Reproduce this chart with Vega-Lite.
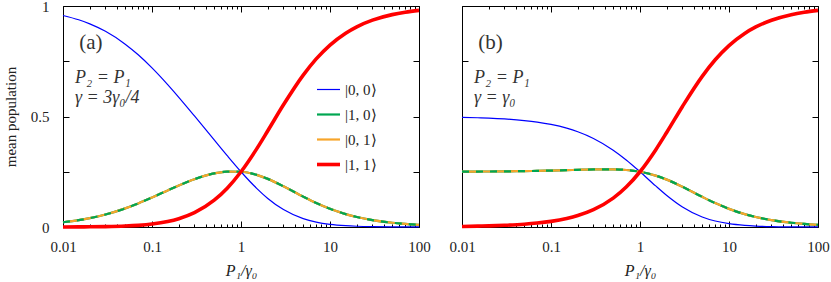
{
  "$schema": "https://vega.github.io/schema/vega-lite/v6.json",
  "autosize": {"type": "pad"},
  "padding": {"left": 2, "top": -2, "right": 0, "bottom": 0},
  "spacing": 43,
  "bounds": "flush",
  "data": {"values": [
    {"panel":"a","x":0.01,"s00":0.9571,"s10":0.0213,"s01":0.0213,"s11":0.0002},
    {"panel":"a","x":0.015,"s00":0.9376,"s10":0.0310,"s01":0.0310,"s11":0.0005},
    {"panel":"a","x":0.02,"s00":0.9192,"s10":0.0400,"s01":0.0400,"s11":0.0008},
    {"panel":"a","x":0.03,"s00":0.8853,"s10":0.0565,"s01":0.0565,"s11":0.0017},
    {"panel":"a","x":0.05,"s00":0.8273,"s10":0.0842,"s01":0.0842,"s11":0.0042},
    {"panel":"a","x":0.07,"s00":0.7791,"s10":0.1067,"s01":0.1067,"s11":0.0075},
    {"panel":"a","x":0.1,"s00":0.7199,"s10":0.1334,"s01":0.1334,"s11":0.0133},
    {"panel":"a","x":0.15,"s00":0.6443,"s10":0.1654,"s01":0.1654,"s11":0.0248},
    {"panel":"a","x":0.2,"s00":0.5869,"s10":0.1878,"s01":0.1878,"s11":0.0376},
    {"panel":"a","x":0.3,"s00":0.5026,"s10":0.2163,"s01":0.2163,"s11":0.0649},
    {"panel":"a","x":0.5,"s00":0.3939,"s10":0.2424,"s01":0.2424,"s11":0.1212},
    {"panel":"a","x":0.7,"s00":0.3228,"s10":0.2508,"s01":0.2508,"s11":0.1756},
    {"panel":"a","x":1,"s00":0.25,"s10":0.25,"s01":0.25,"s11":0.25},
    {"panel":"a","x":1.5,"s00":0.1749,"s10":0.2358,"s01":0.2358,"s11":0.3536},
    {"panel":"a","x":2,"s00":0.1293,"s10":0.2177,"s01":0.2177,"s11":0.4354},
    {"panel":"a","x":3,"s00":0.0787,"s10":0.1843,"s01":0.1843,"s11":0.5528},
    {"panel":"a","x":5,"s00":0.0378,"s10":0.1375,"s01":0.1375,"s11":0.6873},
    {"panel":"a","x":7,"s00":0.0221,"s10":0.1087,"s01":0.1087,"s11":0.7606},
    {"panel":"a","x":10,"s00":0.0120,"s10":0.0823,"s01":0.0823,"s11":0.8233},
    {"panel":"a","x":15,"s00":0.0058,"s10":0.0585,"s01":0.0585,"s11":0.8772},
    {"panel":"a","x":20,"s00":0.0034,"s10":0.0453,"s01":0.0453,"s11":0.9060},
    {"panel":"a","x":30,"s00":0.0016,"s10":0.0312,"s01":0.0312,"s11":0.9360},
    {"panel":"a","x":50,"s00":0.0006,"s10":0.0192,"s01":0.0192,"s11":0.9610},
    {"panel":"a","x":70,"s00":0.0003,"s10":0.0139,"s01":0.0139,"s11":0.9719},
    {"panel":"a","x":100,"s00":0.0002,"s10":0.0098,"s01":0.0098,"s11":0.9802},
    {"panel":"b","x":0.01,"s00":0.4963,"s10":0.2506,"s01":0.2506,"s11":0.0025},
    {"panel":"b","x":0.015,"s00":0.4944,"s10":0.2509,"s01":0.2509,"s11":0.0038},
    {"panel":"b","x":0.02,"s00":0.4926,"s10":0.2512,"s01":0.2512,"s11":0.0050},
    {"panel":"b","x":0.03,"s00":0.4889,"s10":0.2518,"s01":0.2518,"s11":0.0076},
    {"panel":"b","x":0.05,"s00":0.4816,"s10":0.2529,"s01":0.2529,"s11":0.0126},
    {"panel":"b","x":0.07,"s00":0.4745,"s10":0.2539,"s01":0.2539,"s11":0.0178},
    {"panel":"b","x":0.1,"s00":0.4640,"s10":0.2552,"s01":0.2552,"s11":0.0255},
    {"panel":"b","x":0.15,"s00":0.4472,"s10":0.2571,"s01":0.2571,"s11":0.0386},
    {"panel":"b","x":0.2,"s00":0.4310,"s10":0.2586,"s01":0.2586,"s11":0.0517},
    {"panel":"b","x":0.3,"s00":0.4008,"s10":0.2605,"s01":0.2605,"s11":0.0782},
    {"panel":"b","x":0.5,"s00":0.3478,"s10":0.2609,"s01":0.2609,"s11":0.1304},
    {"panel":"b","x":0.7,"s00":0.3035,"s10":0.2580,"s01":0.2580,"s11":0.1806},
    {"panel":"b","x":1,"s00":0.25,"s10":0.25,"s01":0.25,"s11":0.25},
    {"panel":"b","x":1.5,"s00":0.1860,"s10":0.2326,"s01":0.2326,"s11":0.3488},
    {"panel":"b","x":2,"s00":0.1429,"s10":0.2143,"s01":0.2143,"s11":0.4286},
    {"panel":"b","x":3,"s00":0.0909,"s10":0.1818,"s01":0.1818,"s11":0.5455},
    {"panel":"b","x":5,"s00":0.0455,"s10":0.1364,"s01":0.1364,"s11":0.6818},
    {"panel":"b","x":7,"s00":0.0270,"s10":0.1081,"s01":0.1081,"s11":0.7568},
    {"panel":"b","x":10,"s00":0.0149,"s10":0.0821,"s01":0.0821,"s11":0.8209},
    {"panel":"b","x":15,"s00":0.0073,"s10":0.0584,"s01":0.0584,"s11":0.8759},
    {"panel":"b","x":20,"s00":0.0043,"s10":0.0453,"s01":0.0453,"s11":0.9052},
    {"panel":"b","x":30,"s00":0.0020,"s10":0.0312,"s01":0.0312,"s11":0.9356},
    {"panel":"b","x":50,"s00":0.0008,"s10":0.0192,"s01":0.0192,"s11":0.9608},
    {"panel":"b","x":70,"s00":0.0004,"s10":0.0139,"s01":0.0139,"s11":0.9718},
    {"panel":"b","x":100,"s00":0.0002,"s10":0.0098,"s01":0.0098,"s11":0.9802}
  ]},
  "hconcat": [
    {
      "width": 356, "height": 221,
      "layer": [
        {
          "transform": [{"filter": "datum.panel == 'a'"}, {"fold": ["s00","s10","s01","s11"], "as": ["state","value"]}, {"filter": "datum.state == 's00'"}],
          "mark": {"type": "line", "interpolate": "monotone", "strokeWidth": 1.2},
          "encoding": {
            "x": {"field": "x", "type": "quantitative", "scale": {"type": "log", "domain": [0.01, 100], "nice": false},
                  "axis": {"orient": "bottom", "values": [0.01,0.1,1,10,100], "labelExpr": "datum.value < 0.05 ? '0.01' : datum.value < 0.5 ? '0.1' : datum.value < 5 ? '1' : datum.value < 50 ? '10' : '100'", "tickSize": -6, "labelPadding": 18, "labelFlush": false, "labelOverlap": false, "title": "P₁/γ₀", "titleFontStyle": "italic", "titlePadding": 8}},
            "y": {"field": "value", "type": "quantitative", "scale": {"domain": [0, 1], "nice": false, "zero": false},
                  "axis": {"orient": "left", "values": [0,0.25,0.5,0.75,1], "labelExpr": "datum.value == 0 ? '0' : datum.value == 0.5 ? '0.5' : datum.value == 1 ? '1' : ''", "tickSize": -6, "labelPadding": 20, "labelFlush": false, "labelOverlap": false, "title": "mean population", "titleFontSize": 15, "titlePadding": 12}},
            "color": {"field": "state", "type": "nominal", "scale": {"domain": ["s00","s10","s01","s11"], "range": ["#0000ff","#00a651","#f7a52b","#ff0000"]},
                      "legend": {"orient": "none", "legendX": 258, "legendY": 76, "title": null, "symbolType": "stroke", "symbolSize": 529, "labelFont": "Liberation Serif", "labelFontSize": 15, "labelColor": "#222", "labelOffset": 9, "rowPadding": 9, "padding": 0, "labelExpr": "datum.label == 's00' ? '|0, 0⟩' : datum.label == 's10' ? '|1, 0⟩' : datum.label == 's01' ? '|0, 1⟩' : '|1, 1⟩'",
                                 "encode": {"symbols": {"update": {"strokeWidth": {"signal": "datum.value == 's11' ? 3.6 : datum.value == 's00' ? 1.2 : 2.2"}}}}}}
          }
        },
        {
          "transform": [{"filter": "datum.panel == 'a'"}, {"fold": ["s00","s10","s01","s11"], "as": ["state","value"]}, {"filter": "datum.state == 's10' || datum.state == 's01'"}],
          "mark": {"type": "line", "interpolate": "monotone", "strokeWidth": 2.2},
          "encoding": {
            "x": {"field": "x", "type": "quantitative", "axis": {"orient": "top", "values": [0.01,0.1,1,10,100], "tickSize": -6, "labels": false, "title": null}},
            "y": {"field": "value", "type": "quantitative", "axis": {"orient": "right", "values": [0,0.25,0.5,0.75,1], "tickSize": -6, "labels": false, "title": null}},
            "color": {"field": "state", "type": "nominal"}
          }
        },
        {
          "transform": [{"filter": "datum.panel == 'a'"}, {"fold": ["s00","s10","s01","s11"], "as": ["state","value"]}, {"filter": "datum.state == 's10'"}],
          "mark": {"type": "line", "interpolate": "monotone", "color": "#00a651", "strokeWidth": 2.2, "strokeDash": [7, 7]},
          "encoding": {
            "x": {"field": "x", "type": "quantitative", "axis": {"orient": "bottom", "values": [0.02,0.03,0.04,0.05,0.06,0.07,0.08,0.09,0.2,0.3,0.4,0.5,0.6,0.7,0.8,0.9,2,3,4,5,6,7,8,9,20,30,40,50,60,70,80,90], "tickSize": -3, "labels": false, "title": null}},
            "y": {"field": "value", "type": "quantitative", "axis": null}
          }
        },
        {
          "transform": [{"filter": "datum.panel == 'a'"}, {"fold": ["s00","s10","s01","s11"], "as": ["state","value"]}, {"filter": "datum.state == 's11'"}],
          "mark": {"type": "line", "interpolate": "monotone", "strokeWidth": 3.6},
          "encoding": {
            "x": {"field": "x", "type": "quantitative", "axis": {"orient": "top", "values": [0.02,0.03,0.04,0.05,0.06,0.07,0.08,0.09,0.2,0.3,0.4,0.5,0.6,0.7,0.8,0.9,2,3,4,5,6,7,8,9,20,30,40,50,60,70,80,90], "tickSize": -3, "labels": false, "title": null}},
            "y": {"field": "value", "type": "quantitative", "axis": null},
            "color": {"field": "state", "type": "nominal"}
          }
        },
        {
          "data": {"values": [{}]},
          "mark": {"type": "text", "text": "(a)", "align": "left", "baseline": "alphabetic", "fontSize": 21},
          "encoding": {"x": {"datum": 0.01525, "type": "quantitative", "axis": null}, "y": {"datum": 0.805, "type": "quantitative", "axis": null}}
        },
        {
          "data": {"values": [{}]},
          "mark": {"type": "text", "text": "P₂ = P₁", "align": "left", "baseline": "alphabetic", "fontSize": 18, "fontStyle": "italic"},
          "encoding": {"x": {"datum": 0.01365, "type": "quantitative", "axis": null}, "y": {"datum": 0.6516, "type": "quantitative", "axis": null}}
        },
        {
          "data": {"values": [{}]},
          "mark": {"type": "text", "text": "γ = 3γ₀/4", "align": "left", "baseline": "alphabetic", "fontSize": 18, "fontStyle": "italic"},
          "encoding": {"x": {"datum": 0.01365, "type": "quantitative", "axis": null}, "y": {"datum": 0.561, "type": "quantitative", "axis": null}}
        }
      ],
      "resolve": {"axis": {"x": "independent", "y": "independent"}}
    },
    {
      "width": 356, "height": 221,
      "layer": [
        {
          "transform": [{"filter": "datum.panel == 'b'"}, {"fold": ["s00","s10","s01","s11"], "as": ["state","value"]}, {"filter": "datum.state == 's00'"}],
          "mark": {"type": "line", "interpolate": "monotone", "strokeWidth": 1.2},
          "encoding": {
            "x": {"field": "x", "type": "quantitative", "scale": {"type": "log", "domain": [0.01, 100], "nice": false},
                  "axis": {"orient": "bottom", "values": [0.01,0.1,1,10,100], "labelExpr": "datum.value < 0.05 ? '0.01' : datum.value < 0.5 ? '0.1' : datum.value < 5 ? '1' : datum.value < 50 ? '10' : '100'", "tickSize": -6, "labelPadding": 18, "labelFlush": false, "labelOverlap": false, "title": "P₁/γ₀", "titleFontStyle": "italic", "titlePadding": 8}},
            "y": {"field": "value", "type": "quantitative", "scale": {"domain": [0, 1], "nice": false, "zero": false},
                  "axis": {"orient": "left", "values": [0,0.25,0.5,0.75,1], "tickSize": -6, "labels": false, "title": null}},
            "color": {"field": "state", "type": "nominal", "scale": {"domain": ["s00","s10","s01","s11"], "range": ["#0000ff","#00a651","#f7a52b","#ff0000"]}, "legend": null}
          }
        },
        {
          "transform": [{"filter": "datum.panel == 'b'"}, {"fold": ["s00","s10","s01","s11"], "as": ["state","value"]}, {"filter": "datum.state == 's10' || datum.state == 's01'"}],
          "mark": {"type": "line", "interpolate": "monotone", "strokeWidth": 2.2},
          "encoding": {
            "x": {"field": "x", "type": "quantitative", "axis": {"orient": "top", "values": [0.01,0.1,1,10,100], "tickSize": -6, "labels": false, "title": null}},
            "y": {"field": "value", "type": "quantitative", "axis": {"orient": "right", "values": [0,0.25,0.5,0.75,1], "tickSize": -6, "labels": false, "title": null}},
            "color": {"field": "state", "type": "nominal", "legend": null}
          }
        },
        {
          "transform": [{"filter": "datum.panel == 'b'"}, {"fold": ["s00","s10","s01","s11"], "as": ["state","value"]}, {"filter": "datum.state == 's10'"}],
          "mark": {"type": "line", "interpolate": "monotone", "color": "#00a651", "strokeWidth": 2.2, "strokeDash": [7, 7]},
          "encoding": {
            "x": {"field": "x", "type": "quantitative", "axis": {"orient": "bottom", "values": [0.02,0.03,0.04,0.05,0.06,0.07,0.08,0.09,0.2,0.3,0.4,0.5,0.6,0.7,0.8,0.9,2,3,4,5,6,7,8,9,20,30,40,50,60,70,80,90], "tickSize": -3, "labels": false, "title": null}},
            "y": {"field": "value", "type": "quantitative", "axis": null}
          }
        },
        {
          "transform": [{"filter": "datum.panel == 'b'"}, {"fold": ["s00","s10","s01","s11"], "as": ["state","value"]}, {"filter": "datum.state == 's11'"}],
          "mark": {"type": "line", "interpolate": "monotone", "strokeWidth": 3.6},
          "encoding": {
            "x": {"field": "x", "type": "quantitative", "axis": {"orient": "top", "values": [0.02,0.03,0.04,0.05,0.06,0.07,0.08,0.09,0.2,0.3,0.4,0.5,0.6,0.7,0.8,0.9,2,3,4,5,6,7,8,9,20,30,40,50,60,70,80,90], "tickSize": -3, "labels": false, "title": null}},
            "y": {"field": "value", "type": "quantitative", "axis": null},
            "color": {"field": "state", "type": "nominal", "legend": null}
          }
        },
        {
          "data": {"values": [{}]},
          "mark": {"type": "text", "text": "(b)", "align": "left", "baseline": "alphabetic", "fontSize": 21},
          "encoding": {"x": {"datum": 0.01525, "type": "quantitative", "axis": null}, "y": {"datum": 0.805, "type": "quantitative", "axis": null}}
        },
        {
          "data": {"values": [{}]},
          "mark": {"type": "text", "text": "P₂ = P₁", "align": "left", "baseline": "alphabetic", "fontSize": 18, "fontStyle": "italic"},
          "encoding": {"x": {"datum": 0.01365, "type": "quantitative", "axis": null}, "y": {"datum": 0.6516, "type": "quantitative", "axis": null}}
        },
        {
          "data": {"values": [{}]},
          "mark": {"type": "text", "text": "γ = γ₀", "align": "left", "baseline": "alphabetic", "fontSize": 18, "fontStyle": "italic"},
          "encoding": {"x": {"datum": 0.01365, "type": "quantitative", "axis": null}, "y": {"datum": 0.561, "type": "quantitative", "axis": null}}
        }
      ],
      "resolve": {"axis": {"x": "independent", "y": "independent"}}
    }
  ],
  "resolve": {"scale": {"x": "independent", "y": "independent", "color": "independent"}},
  "config": {
    "view": {"stroke": "#000", "strokeWidth": 1},
    "axis": {"grid": false, "domain": false, "tickColor": "#000", "tickWidth": 1, "labelFont": "Liberation Serif", "labelFontSize": 15, "labelColor": "#222", "titleFont": "Liberation Serif", "titleFontSize": 16, "titleFontWeight": "normal", "titleColor": "#222"},
    "text": {"font": "Liberation Serif", "color": "#333"}
  }
}
